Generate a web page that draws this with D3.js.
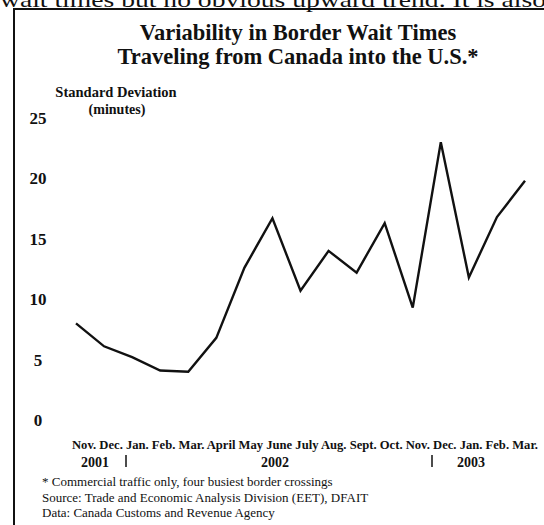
<!DOCTYPE html>
<html><head><meta charset="utf-8">
<script src="https://cdn.jsdelivr.net/npm/d3@7"></script>
<style>
html,body{margin:0;padding:0;background:#fff;}
svg{display:block;}
text{font-family:"Liberation Serif","Times New Roman",serif;fill:#111;}
</style></head>
<body>
<script>
const months = ["Nov.","Dec.","Jan.","Feb.","Mar.","April","May","June","July","Aug.","Sept.","Oct.","Nov.","Dec.","Jan.","Feb.","Mar."];
const stdDev = [8.0, 6.1, 5.2, 4.1, 4.0, 6.8, 12.6, 16.7, 10.7, 14.0, 12.2, 16.3, 9.3, 23.0, 11.8, 16.8, 19.8];
const yTicks = [0, 5, 10, 15, 20, 25];
const years = ["2001", "2002", "2003"];
const titleLines = ["Variability in Border Wait Times", "Traveling from Canada into the U.S.*"];
const notes = ["* Commercial traffic only, four busiest border crossings",
               "Source: Trade and Economic Analysis Division (EET), DFAIT",
               "Data: Canada Customs and Revenue Agency"];

const W = 544, H = 525;
const svg = d3.select("body").append("svg").attr("width", W).attr("height", H);
svg.append("rect").attr("width", W).attr("height", H).attr("fill", "#fff");

// clipped body text at top (as in the scanned page)
svg.append("text").attr("x", 0).attr("y", 7).attr("font-size", 22)
  .attr("textLength", 546).attr("lengthAdjust", "spacingAndGlyphs")
  .text("wait times but no obvious upward trend. It is also");

// frame
svg.append("path").attr("d", "M14,525 V9 H544").attr("fill", "none")
  .attr("stroke", "#111").attr("stroke-width", 2);

// title
svg.selectAll("text.title").data(titleLines).join("text").attr("class", "title")
  .attr("x", 298).attr("y", (d, i) => 40 + i * 24)
  .attr("text-anchor", "middle").attr("font-weight", "bold").attr("font-size", 22.5)
  .text(d => d);

// y label
svg.append("text").attr("x", 116).attr("y", 97).attr("text-anchor", "middle")
  .attr("font-weight", "bold").attr("font-size", 14.5).text("Standard Deviation");
svg.append("text").attr("x", 117).attr("y", 114).attr("text-anchor", "middle")
  .attr("font-weight", "bold").attr("font-size", 14).text("(minutes)");

const x = d3.scalePoint().domain(d3.range(months.length)).range([76, 525]);
const y = d3.scaleLinear().domain([0, 25]).range([420, 118]);

const yAxis = svg.append("g").attr("transform", "translate(38,0)")
  .call(d3.axisLeft(y).tickValues(yTicks).tickSize(0).tickPadding(0));
yAxis.select(".domain").remove();
yAxis.selectAll("text").attr("x", 0).attr("text-anchor", "middle")
  .attr("font-family", "Liberation Serif, serif").attr("font-weight", "bold")
  .attr("font-size", 17).attr("fill", "#111");

// line
svg.append("path").datum(stdDev)
  .attr("fill", "none").attr("stroke", "#111").attr("stroke-width", 2.4)
  .attr("stroke-linejoin", "miter")
  .attr("d", d3.line().x((d, i) => x(i)).y(d => y(d)));

// month labels as one typeset line
svg.append("text").attr("x", 72).attr("y", 449)
  .attr("font-weight", "bold").attr("font-size", 11.5)
  .attr("textLength", 466).attr("lengthAdjust", "spacingAndGlyphs")
  .text(months.join(" "));

// year labels
const yearX = [95, 275, 471];
svg.selectAll("text.year").data(years).join("text").attr("class", "year")
  .attr("x", (d, i) => yearX[i]).attr("y", 467).attr("text-anchor", "middle")
  .attr("font-weight", "bold").attr("font-size", 14).text(d => d);
[126, 432].forEach(sx => {
  svg.append("line").attr("x1", sx).attr("x2", sx).attr("y1", 455).attr("y2", 467)
    .attr("stroke", "#111").attr("stroke-width", 1.5);
});

// notes
svg.selectAll("text.note").data(notes).join("text").attr("class", "note")
  .attr("x", 42).attr("y", (d, i) => 486 + i * 15.5)
  .attr("font-size", 13).text(d => d);
</script>
</body></html>
